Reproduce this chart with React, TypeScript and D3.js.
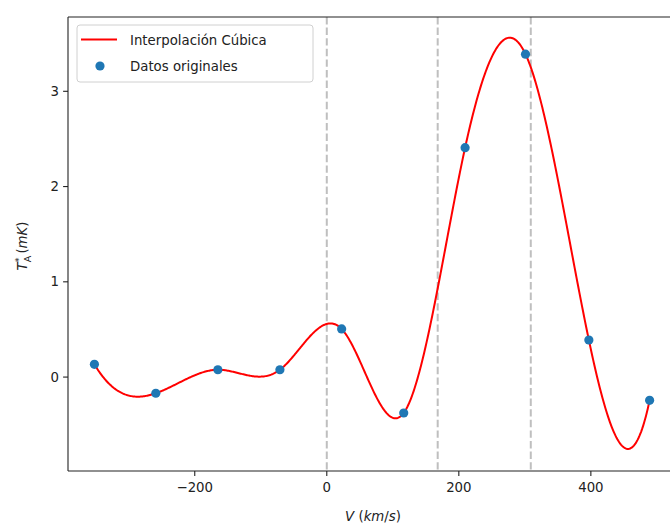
import React from "react";
import * as d3 from "d3";

// Observed samples: velocity (km/s) and antenna temperature (mK)
const velocities = [-352, -259, -165, -71, 22.5, 116.5, 209.5, 301, 397, 489];
const temperatures = [0.134, -0.17, 0.077, 0.077, 0.505, -0.377, 2.408, 3.39, 0.389, -0.244];
// Reference velocities marked with dashed lines
const markerLines = [0, 168, 309];
const xTicks = [-200, 0, 200, 400];
const yTicks = [0, 1, 2, 3];

const W = 670;
const H = 524;
const margin = { left: 68, top: 17, bottom: 53 };
const plotWidth = 610;

// Cubic spline with not-a-knot end conditions
function notAKnotSpline(x: number[], y: number[]) {
  const n = x.length;
  const h = d3.range(n - 1).map((i) => x[i + 1] - x[i]);
  const A: number[][] = d3.range(n).map(() => new Array(n).fill(0));
  const b: number[] = new Array(n).fill(0);
  A[0][0] = h[1];
  A[0][1] = -(h[0] + h[1]);
  A[0][2] = h[0];
  for (let i = 1; i < n - 1; i++) {
    A[i][i - 1] = h[i - 1];
    A[i][i] = 2 * (h[i - 1] + h[i]);
    A[i][i + 1] = h[i];
    b[i] = 6 * ((y[i + 1] - y[i]) / h[i] - (y[i] - y[i - 1]) / h[i - 1]);
  }
  A[n - 1][n - 3] = h[n - 2];
  A[n - 1][n - 2] = -(h[n - 3] + h[n - 2]);
  A[n - 1][n - 1] = h[n - 3];
  // Gaussian elimination with partial pivoting
  const M = A.map((r, i) => [...r, b[i]]);
  for (let c = 0; c < n; c++) {
    let p = c;
    for (let r = c + 1; r < n; r++) if (Math.abs(M[r][c]) > Math.abs(M[p][c])) p = r;
    [M[c], M[p]] = [M[p], M[c]];
    for (let r = c + 1; r < n; r++) {
      const f = M[r][c] / M[c][c];
      for (let k = c; k <= n; k++) M[r][k] -= f * M[c][k];
    }
  }
  const m = new Array(n).fill(0);
  for (let r = n - 1; r >= 0; r--) {
    let s = M[r][n];
    for (let k = r + 1; k < n; k++) s -= M[r][k] * m[k];
    m[r] = s / M[r][r];
  }
  return (t: number) => {
    let i = d3.bisectRight(x, t) - 1;
    i = Math.max(0, Math.min(n - 2, i));
    const hi = h[i];
    const a = x[i + 1] - t;
    const bb = t - x[i];
    return (
      (m[i] * a * a * a) / (6 * hi) +
      (m[i + 1] * bb * bb * bb) / (6 * hi) +
      (y[i] / hi - (m[i] * hi) / 6) * a +
      (y[i + 1] / hi - (m[i + 1] * hi) / 6) * bb
    );
  };
}

export default function App() {
  const x0 = margin.left;
  const x1 = margin.left + plotWidth;
  const y0 = H - margin.bottom;
  const y1 = margin.top;
  const xs = d3.scaleLinear().domain([-392, 532]).range([x0, x1]);
  const ys = d3.scaleLinear().domain([-0.986, 3.78]).range([y0, y1]);
  const spline = notAKnotSpline(velocities, temperatures);
  const lo = velocities[0];
  const hi = velocities[velocities.length - 1];
  const curvePts = d3.range(0, 601).map((k) => {
    const v = lo + ((hi - lo) * k) / 600;
    return [v, spline(v)] as [number, number];
  });
  const line = d3
    .line<[number, number]>()
    .x((d) => xs(d[0]))
    .y((d) => ys(d[1]));
  const font = "DejaVu Sans, sans-serif";
  return (
    <svg
      width={W}
      height={H}
      style={{ position: "absolute", left: 0, top: 0, background: "#fff" }}
      fontFamily={font}
    >
      <defs>
        <clipPath id="plotArea">
          <rect x={x0} y={y1} width={x1 - x0} height={y0 - y1} />
        </clipPath>
      </defs>
      <g clipPath="url(#plotArea)">
        {markerLines.map((v) => (
          <line
            key={v}
            x1={xs(v)}
            x2={xs(v)}
            y1={y1}
            y2={y0}
            stroke="#808080"
            strokeOpacity={0.5}
            strokeWidth={2}
            strokeDasharray="7.4,3.2"
          />
        ))}
        <path d={line(curvePts) || ""} fill="none" stroke="#ff0000" strokeWidth={2} />
        {velocities.map((v, i) => (
          <circle key={i} cx={xs(v)} cy={ys(temperatures[i])} r={4.6} fill="#1f77b4" />
        ))}
      </g>
      {/* spines */}
      <g stroke="#222" strokeWidth={1.1} fill="none">
        <line x1={x0} x2={x0} y1={y1} y2={y0} />
        <line x1={x0} x2={x1} y1={y0} y2={y0} />
        <line x1={x0} x2={x1} y1={y1} y2={y1} />
      </g>
      {/* x ticks */}
      {xTicks.map((t) => (
        <g key={t} transform={`translate(${xs(t)},${y0})`}>
          <line y2={4.9} stroke="#222" strokeWidth={1.1} />
          <text y={21} textAnchor="middle" fontSize={13.3} fill="#222">
            {t < 0 ? `\u2212${Math.abs(t)}` : t}
          </text>
        </g>
      ))}
      {/* y ticks */}
      {yTicks.map((t) => (
        <g key={t} transform={`translate(${x0},${ys(t)})`}>
          <line x2={-4.9} stroke="#222" strokeWidth={1.1} />
          <text x={-9} dy="0.35em" textAnchor="end" fontSize={13.3} fill="#222">
            {t}
          </text>
        </g>
      ))}
      {/* axis labels */}
      <text x={(x0 + x1) / 2} y={y0 + 50} textAnchor="middle" fontSize={13.3} fill="#222">
        <tspan fontStyle="italic">V</tspan> (<tspan fontStyle="italic">km</tspan>/<tspan fontStyle="italic">s</tspan>)
      </text>
      <text
        transform={`translate(27,${(y0 + y1) / 2 + 2}) rotate(-90)`}
        textAnchor="middle"
        fontSize={13.3}
        fill="#222"
      >
        <tspan fontStyle="italic">T</tspan>
        <tspan fontSize={9.5} dy={3.5}>A</tspan>
        <tspan fontSize={9.5} dy={-9} dx={-6.5}>*</tspan>
        <tspan dy={5.5} dx={4}>(</tspan>
        <tspan fontStyle="italic">mK</tspan>
        <tspan>)</tspan>
      </text>
      {/* legend */}
      <g transform="translate(77,25)">
        <rect width={236} height={57} rx={3} fill="#fff" fillOpacity={0.8} stroke="#d0d0d0" />
        <line x1={4} x2={40} y1={14.5} y2={14.5} stroke="#ff0000" strokeWidth={2} />
        <text x={53} y={19.5} fontSize={13.3} fill="#222">
          Interpolación Cúbica
        </text>
        <circle cx={23} cy={41} r={4.6} fill="#1f77b4" />
        <text x={53} y={46} fontSize={13.3} fill="#222">
          Datos originales
        </text>
      </g>
    </svg>
  );
}
